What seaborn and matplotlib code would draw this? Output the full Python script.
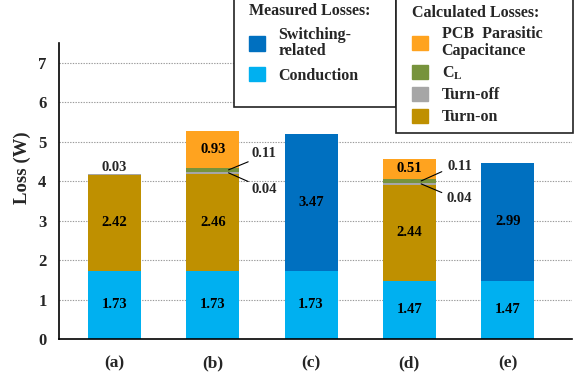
import matplotlib
matplotlib.use("Agg")
import matplotlib.pyplot as plt
import matplotlib.patches as mpatches
import numpy as np
import pandas as pd
import seaborn as sns

# Loss breakdown per configuration (W), stacked bottom to top
cases = ["(a)", "(b)", "(c)", "(d)", "(e)"]
conduction = [1.73, 1.73, 1.73, 1.47, 1.47]
turn_on = [2.42, 2.46, 0.00, 2.44, 0.00]
turn_off = [0.03, 0.04, 0.00, 0.04, 0.00]
c_load = [0.00, 0.11, 0.00, 0.11, 0.00]
pcb_cap = [0.00, 0.93, 0.00, 0.51, 0.00]
switching = [0.00, 0.00, 3.47, 0.00, 2.99]

segment_names = ["Conduction", "Turn-on", "Turn-off", "C_L", "PCB", "Switching"]
segment_values = [conduction, turn_on, turn_off, c_load, pcb_cap, switching]
colors = {
    "Conduction": "#00B0F0",
    "Turn-on": "#BF9000",
    "Turn-off": "#A6A6A6",
    "C_L": "#77933C",
    "PCB": "#FFA31F",
    "Switching": "#0070C0",
}

sns.set_theme(style="white")
plt.rcParams["font.family"] = ["Liberation Serif", "DejaVu Serif"]
plt.rcParams["font.weight"] = "bold"
plt.rcParams["mathtext.fontset"] = "custom"
plt.rcParams["mathtext.rm"] = "Liberation Serif:bold"
plt.rcParams["mathtext.it"] = "Liberation Serif:bold"
plt.rcParams["mathtext.bf"] = "Liberation Serif:bold"

W, H = 576, 375
fig = plt.figure(figsize=(W / 100, H / 100), dpi=100)
ax = fig.add_axes([59 / W, 1 - 339 / H, (572 - 59) / W, (339 - 43) / H])

# cumulative tops, drawn tallest-first so each segment shows through
vals = np.array(segment_values)
tops = np.cumsum(vals, axis=0)
bottoms = tops - vals
bar_width = 0.54
for i in range(len(segment_names) - 1, -1, -1):
    df = pd.DataFrame({"case": cases, "top": tops[i]})
    sns.barplot(data=df, x="case", y="top", order=cases, color=colors[segment_names[i]],
                width=bar_width, saturation=1, edgecolor="none", linewidth=0, ax=ax, zorder=2)

# value labels centred inside each visible segment
label_fs = 10.5
for i, name in enumerate(segment_names):
    for j, case in enumerate(cases):
        v = vals[i, j]
        if v < 0.3:
            continue
        ax.text(j, bottoms[i, j] + v / 2, f"{v:.2f}", ha="center", va="center",
                fontsize=label_fs, fontweight="bold", color="black", zorder=5)

# thin segments: label above bar (a), leader lines for (b) and (d)
ax.text(0, tops[2, 0] + 0.17, f"{turn_off[0]:.2f}", ha="center", va="center",
        fontsize=label_fs, fontweight="bold", zorder=5)
leaders = {
    1: dict(x0=0.16, x1=0.36, xt=0.52, cl_end=4.49, cl_txt=4.70, off_end=3.99, off_txt=3.79),
    3: dict(x0=0.12, x1=0.33, xt=0.51, cl_end=4.24, cl_txt=4.37, off_end=3.71, off_txt=3.56),
}
for j, p in leaders.items():
    y_cl = bottoms[3, j] + c_load[j] / 2
    y_off = bottoms[2, j] + turn_off[j] / 2
    ax.plot([j + p["x0"], j + p["x1"]], [y_cl, p["cl_end"]], color="black", lw=0.8, zorder=6)
    ax.plot([j + p["x0"], j + p["x1"]], [y_off, p["off_end"]], color="black", lw=0.8, zorder=6)
    ax.text(j + p["xt"], p["cl_txt"], f"{c_load[j]:.2f}", ha="center", va="center",
            fontsize=label_fs, fontweight="bold", zorder=6)
    ax.text(j + p["xt"], p["off_txt"], f"{turn_off[j]:.2f}", ha="center", va="center",
            fontsize=label_fs, fontweight="bold", zorder=6)

# axes styling
ax.set_xlim(-0.565, 4.655)
ax.set_ylim(0, 7.5)
ax.set_yticks(range(0, 8))
ax.set_axisbelow(True)
for y in range(1, 8):
    ax.axhline(y, color="#9A9A9A", lw=0.8, ls=(0, (1.2, 1.2)), zorder=0)
for s in ["top", "right"]:
    ax.spines[s].set_visible(False)
for s in ["left", "bottom"]:
    ax.spines[s].set_color("black")
    ax.spines[s].set_linewidth(1.2)
ax.tick_params(axis="both", length=0)
ax.tick_params(axis="x", pad=12, labelsize=12.5)
ax.tick_params(axis="y", pad=9, labelsize=12)
for lbl in ax.get_xticklabels() + ax.get_yticklabels():
    lbl.set_fontweight("bold")
ax.set_xlabel("")
ax.set_ylabel("Loss (W)", fontsize=13.5, fontweight="bold")
ax.yaxis.set_label_coords(-0.054, 0.578)

# legend frames (pixel boxes, running off the top edge)
for x0, x1, yb in [(234, 396, 107), (396, 573, 133)]:
    ax.add_patch(mpatches.Rectangle((x0 / W, 1 - yb / H), (x1 - x0) / W, yb / H + 0.05,
                                    transform=fig.transFigure, clip_on=False,
                                    facecolor="white", edgecolor="#222222", lw=1.2, zorder=9))

leg_kw = dict(loc="upper left", borderaxespad=0, borderpad=0, fontsize=11.5, title_fontsize=11.5,
              handlelength=1.0, handleheight=1.0, handletextpad=0.85,
              frameon=False, alignment="left", bbox_transform=fig.transFigure)

measured = [mpatches.Patch(color=colors["Switching"], label="Switching-\nrelated"),
            mpatches.Patch(color=colors["Conduction"], label="Conduction")]
leg1 = ax.legend(handles=measured, title="Measured Losses:", labelspacing=0.48,
                 bbox_to_anchor=(249 / W, 1 - 3 / H), **leg_kw)
ax.add_artist(leg1)

calculated = [mpatches.Patch(color=colors["PCB"], label="PCB  Parasitic\nCapacitance"),
              mpatches.Patch(color=colors["C_L"], label=r"C$_{\mathrm{L}}$"),
              mpatches.Patch(color=colors["Turn-off"], label="Turn-off"),
              mpatches.Patch(color=colors["Turn-on"], label="Turn-on")]
leg2 = ax.legend(handles=calculated, title="Calculated Losses:", labelspacing=0.33,
                 bbox_to_anchor=(412 / W, 1 - 5 / H), **leg_kw)
for leg in (leg1, leg2):
    leg.set_zorder(10)
    leg.get_title().set_fontweight("bold")
    for t in leg.get_texts():
        t.set_fontweight("bold")
        t.set_linespacing(1.05)

fig.savefig("out.png", dpi=100)
